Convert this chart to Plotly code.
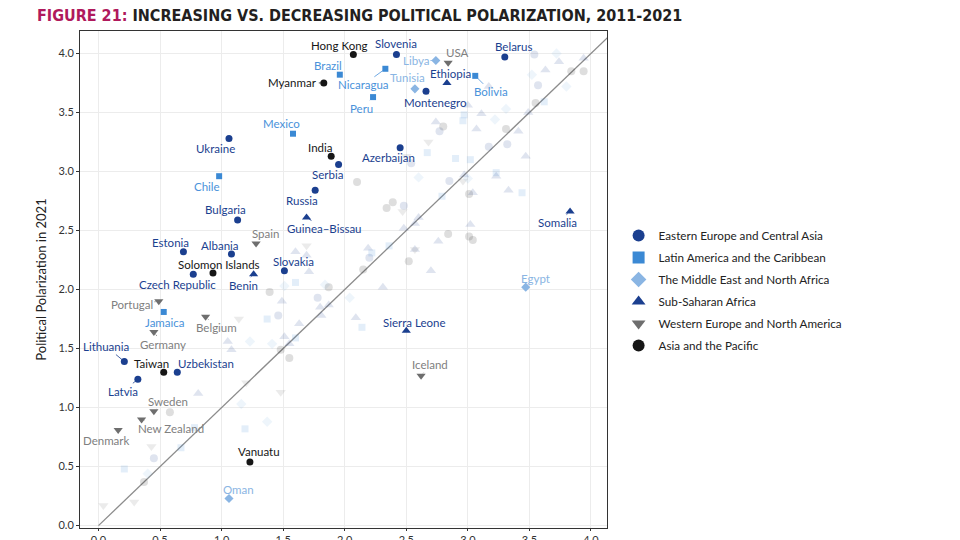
import plotly.graph_objects as go

# regions, in legend order
regions = ['Eastern Europe and Central Asia', 'Latin America and the Caribbean',
           'The Middle East and North Africa', 'Sub-Saharan Africa',
           'Western Europe and North America', 'Asia and the Pacific']
region_colors = ['#1b3f8f', '#3b89d4', '#8ab5e3', '#1b3f8f', '#6e6e6e', '#161616']
region_symbols = ['circle', 'square', 'diamond', 'triangle-up', 'triangle-down', 'circle']
region_sizes = [7, 6, 7, 8, 8, 7]

# labelled countries
country = ['Slovenia', 'Belarus', 'Montenegro', 'Ukraine', 'Serbia', 'Russia', 'Azerbaijan',
           'Bulgaria', 'Estonia', 'Albania', 'Czech Republic', 'Slovakia', 'Lithuania',
           'Uzbekistan', 'Latvia',
           'Brazil', 'Nicaragua', 'Bolivia', 'Peru', 'Mexico', 'Chile', 'Jamaica',
           'Libya', 'Tunisia', 'Egypt', 'Oman',
           'Ethiopia', 'Guinea–Bissau', 'Benin', 'Somalia', 'Sierra Leone',
           'USA', 'Spain', 'Portugal', 'Belgium', 'Germany', 'Sweden', 'New Zealand',
           'Denmark', 'Iceland',
           'Hong Kong', 'Myanmar', 'India', 'Solomon Islands', 'Taiwan', 'Vanuatu']
country_region = [0] * 15 + [1] * 7 + [2] * 4 + [3] * 5 + [4] * 9 + [5] * 6
pol_2011 = [2.42, 3.30, 2.66, 1.06, 1.95, 1.76, 2.45,
            1.13, 0.69, 1.08, 0.77, 1.51, 0.21,
            0.64, 0.32,
            1.96, 2.33, 3.06, 2.23, 1.58, 0.98, 0.53,
            2.74, 2.57, 3.47, 1.06,
            2.83, 1.69, 1.26, 3.83, 2.50,
            2.84, 1.28, 0.49, 0.87, 0.45, 0.45, 0.35,
            0.16, 2.62,
            2.07, 1.83, 1.89, 0.93, 0.53, 1.23]
pol_2021 = [3.99, 3.97, 3.68, 3.28, 3.06, 2.84, 3.20,
            2.59, 2.32, 2.30, 2.13, 2.16, 1.39,
            1.30, 1.24,
            3.82, 3.87, 3.81, 3.63, 3.32, 2.96, 1.81,
            3.94, 3.70, 2.02, 0.23,
            3.75, 2.61, 2.13, 2.66, 1.65,
            3.92, 2.39, 1.90, 1.77, 1.64, 0.97, 0.90,
            0.81, 1.27,
            3.99, 3.75, 3.13, 2.14, 1.30, 0.54]

# label offsets in pixels (dx right, dy up)
label_offset = {
    'Slovenia': (0, 11), 'Belarus': (9, 10), 'Montenegro': (9, -11), 'Ukraine': (-13, -10),
    'Serbia': (-11, -10), 'Russia': (-13, -10), 'Azerbaijan': (-12, -10), 'Bulgaria': (-12, 10),
    'Estonia': (-13, 9), 'Albania': (-11, 9), 'Czech Republic': (-16, -10), 'Slovakia': (9, 9),
    'Lithuania': (-18, 15), 'Uzbekistan': (29, 9), 'Latvia': (-15, -12),
    'Brazil': (-12, 9), 'Nicaragua': (-22, -16), 'Bolivia': (16, -16), 'Peru': (-12, -11),
    'Mexico': (-12, 10), 'Chile': (-12, -10), 'Jamaica': (1, -11),
    'Libya': (-20, 0), 'Tunisia': (-7, 11), 'Egypt': (10, 9), 'Oman': (10, 9),
    'Ethiopia': (4, 9), 'Guinea–Bissau': (18, -11), 'Benin': (-10, -11), 'Somalia': (-13, -11),
    'Sierra Leone': (8, 8),
    'USA': (9, 10), 'Spain': (9, 10), 'Portugal': (-27, -3), 'Belgium': (11, -11),
    'Germany': (9, -12), 'Sweden': (14, 10), 'New Zealand': (29, -9), 'Denmark': (-12, -10),
    'Iceland': (9, 11),
    'Hong Kong': (-14, 9), 'Myanmar': (-31, 0), 'India': (-11, 9), 'Solomon Islands': (6, 9),
    'Taiwan': (-12, 9), 'Vanuatu': (9, 10),
}
label_colors = ['#1b3f8f', '#4a92da', '#8ab5e3', '#1b3f8f', '#808080', '#161616']

# unlabelled countries (drawn faded)
other_region = ([0] * 12 + [1] * 19 + [2] * 15 + [3] * 38 + [4] * 12 + [5] * 20)
other_2011 = [3.54, 3.57, 3.17, 3.32, 2.85, 2.77, 2.54, 2.48, 2.20, 1.78, 1.46, 0.45,
              3.62, 2.97, 2.96, 2.90, 3.02, 3.23, 3.44, 2.67, 2.79, 2.36, 2.22, 1.60, 1.37,
              1.60, 2.14, 1.19, 0.78, 0.67, 0.21,
              3.72, 3.52, 3.80, 3.31, 3.22, 3.00, 2.60, 1.51, 1.84, 2.04, 1.41, 1.23, 1.16,
              1.37, 0.40,
              3.74, 3.63, 3.94, 3.17, 3.00, 3.11, 3.49, 3.07, 3.41, 3.47, 2.97, 3.23, 3.04,
              3.33, 2.74, 2.60, 2.57, 2.48, 2.76, 3.02, 2.19, 2.57, 2.70, 1.69, 1.71, 1.60,
              1.49, 2.31, 1.63, 1.51, 1.55, 1.05, 1.08, 1.80, 1.87, 1.81, 2.09, 0.81,
              2.68, 2.50, 2.47, 2.57, 2.96, 1.69, 1.14, 1.20, 1.48, 0.43, 0.04, 0.29,
              3.84, 3.94, 3.55, 2.80, 3.31, 3.01, 2.10, 2.39, 2.34, 2.84, 3.01, 3.04, 2.52,
              2.15, 1.87, 1.39, 1.48, 1.55, 0.58, 0.37]
other_2021 = [3.99, 3.73, 3.21, 3.23, 2.92, 3.34, 3.07, 2.71, 2.27, 1.93, 1.78, 0.57,
              3.59, 3.48, 3.43, 3.11, 3.10, 2.99, 2.82, 3.16, 2.79, 2.37, 2.31, 2.06, 1.75,
              1.59, 1.68, 0.82, 0.83, 0.66, 0.48,
              4.00, 3.82, 3.72, 3.53, 3.44, 2.94, 2.95, 2.03, 2.04, 1.93, 1.54, 1.56, 1.03,
              0.88, 0.44,
              3.93, 3.86, 3.96, 3.72, 3.56, 3.49, 3.50, 3.36, 3.34, 3.13, 2.97, 2.96, 2.82,
              2.84, 3.42, 2.61, 2.56, 2.52, 2.41, 2.55, 2.35, 2.34, 2.16, 2.29, 2.15, 2.32,
              1.90, 2.02, 1.71, 1.60, 1.54, 1.56, 1.49, 1.85, 1.87, 1.78, 1.76, 1.12,
              3.25, 3.13, 2.66, 2.34, 2.92, 2.37, 1.75, 1.21, 1.13, 0.67, 0.17, 0.20,
              3.85, 3.85, 3.58, 3.38, 3.36, 2.81, 2.91, 2.74, 2.69, 2.47, 2.45, 2.42, 2.24,
              2.17, 2.02, 1.98, 1.49, 1.42, 0.96, 0.37]

fig = go.Figure()

# 45 degree reference line
fig.add_trace(go.Scatter(x=[0, 4.3], y=[0, 4.3], mode='lines',
                         line=dict(color='#8c8c8c', width=1.3),
                         showlegend=False, hoverinfo='skip'))

for r in range(len(regions)):
    fx = [other_2011[i] for i in range(len(other_region)) if other_region[i] == r]
    fy = [other_2021[i] for i in range(len(other_region)) if other_region[i] == r]
    fig.add_trace(go.Scatter(x=fx, y=fy, mode='markers', showlegend=False,
                             marker=dict(symbol=region_symbols[r], size=region_sizes[r] + 1,
                                         color=region_colors[r], opacity=0.14)))

for r in range(len(regions)):
    idx = [i for i in range(len(country)) if country_region[i] == r]
    fig.add_trace(go.Scatter(x=[pol_2011[i] for i in idx], y=[pol_2021[i] for i in idx],
                             mode='markers', name=regions[r], legendgroup=str(r),
                             text=[country[i] for i in idx],
                             marker=dict(symbol=region_symbols[r], size=region_sizes[r],
                                         color=region_colors[r])))

for i in range(len(country)):
    dx, dy = label_offset[country[i]]
    c = label_colors[country_region[i]]
    fig.add_annotation(x=pol_2011[i], y=pol_2021[i], text=country[i],
                       showarrow=True, arrowhead=0, arrowwidth=0.8, arrowcolor=c,
                       standoff=3, ax=dx, ay=-dy,
                       font=dict(family='Lato, Open Sans, sans-serif', size=11.5, color=c))

# title (sits right at the top edge in the source)
fig.add_annotation(xref='paper', yref='paper', x=-0.0854, y=1.008, xanchor='left',
                   yanchor='bottom', showarrow=False,
                   text="<b><span style='color:#b0195c'>FIGURE 21:</span> "
                        "INCREASING VS. DECREASING POLITICAL POLARIZATION, 2011-2021</b>",
                   font=dict(family='Liberation Sans Narrow, DejaVu Sans Condensed, sans-serif',
                             size=16, color='#231f20'))

axis_style = dict(showgrid=True, gridcolor='#ececec', gridwidth=1, zeroline=False,
                  showline=True, linecolor='#333333', linewidth=1, mirror=True,
                  ticks='outside', tickcolor='#333333', dtick=0.5,
                  tickformat='.1f', automargin=False,
                  tickfont=dict(family='Lato, sans-serif', size=11, color='#333333'))

fig.update_xaxes(range=[-0.15, 4.13], ticklen=2, **axis_style)
fig.update_yaxes(range=[-0.02, 4.19], ticklen=3,
                 title=dict(text='Political Polarization in 2021', standoff=8,
                            font=dict(family='Lato, sans-serif', size=13, color='#222222')),
                 **axis_style)

# the page body adds an 8px offset, so margins are shifted to compensate
fig.update_layout(
    width=960, height=540,
    margin=dict(l=72, r=361, t=23, b=20),
    paper_bgcolor='white', plot_bgcolor='white',
    legend=dict(x=1.022, y=0.478, xanchor='left', yanchor='middle',
                font=dict(family='Lato, sans-serif', size=11.7, color='#222222'),
                itemsizing='constant', tracegroupgap=3, itemwidth=30,
                bgcolor='rgba(0,0,0,0)'),
)

fig.write_html("out.html")
